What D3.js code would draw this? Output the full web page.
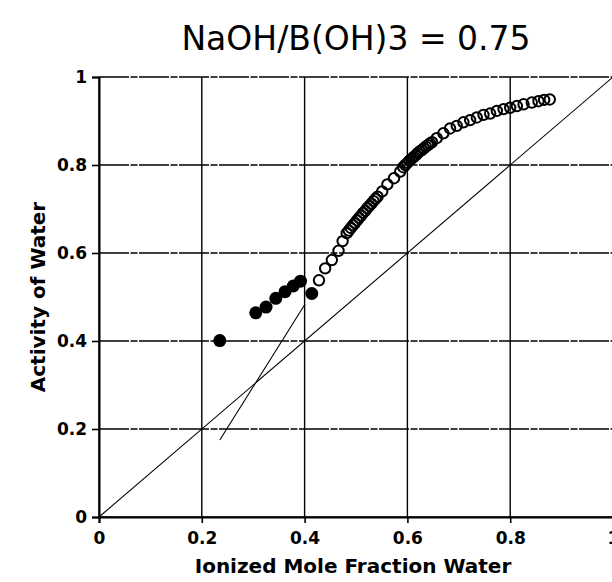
<!DOCTYPE html>
<html>
<head>
<meta charset="utf-8">
<script src="https://cdn.jsdelivr.net/npm/d3@7"></script>
<style>
  body { margin: 0; background: #fff; }
  svg { display: block; }
</style>
</head>
<body>
<div id="chart"></div>
<script>
// === Data ===
const xTicks = [0, 0.2, 0.4, 0.6, 0.8, 1];
const yTicks = [0, 0.2, 0.4, 0.6, 0.8, 1];
const tickLabels = ["0", "0.2", "0.4", "0.6", "0.8", "1"];

// filled markers (low water region)
const filledX = [0.235, 0.305, 0.325, 0.344, 0.362, 0.378, 0.392, 0.414];
const filledY = [0.401, 0.464, 0.477, 0.497, 0.512, 0.525, 0.536, 0.508];

// open markers
const openX = [0.428, 0.440, 0.453, 0.466, 0.474,
  0.482, 0.486, 0.490, 0.494, 0.498, 0.502, 0.506, 0.510, 0.514, 0.518, 0.522, 0.526, 0.530, 0.534, 0.538, 0.542,
  0.551, 0.561, 0.574, 0.586,
  0.592, 0.596, 0.600, 0.604, 0.608, 0.612, 0.616, 0.620, 0.624, 0.628, 0.632, 0.636, 0.640, 0.644, 0.648,
  0.657, 0.670, 0.683, 0.696, 0.709, 0.722, 0.735, 0.748, 0.761, 0.774, 0.787, 0.800, 0.813, 0.826, 0.842, 0.855, 0.866, 0.877];
const openY = [0.538, 0.565, 0.584, 0.605, 0.627,
  0.645, 0.651, 0.657, 0.663, 0.668, 0.674, 0.680, 0.685, 0.691, 0.696, 0.702, 0.707, 0.712, 0.718, 0.723, 0.728,
  0.740, 0.756, 0.770, 0.785,
  0.795, 0.800, 0.805, 0.810, 0.814, 0.818, 0.822, 0.827, 0.831, 0.834, 0.838, 0.842, 0.845, 0.849, 0.852,
  0.861, 0.872, 0.883, 0.889, 0.897, 0.902, 0.908, 0.914, 0.917, 0.923, 0.927, 0.930, 0.934, 0.938, 0.942, 0.945, 0.948, 0.949];

// ideal line a = x, and the tangent segment
const idealX = [0, 1];
const idealY = [0, 1];
const tangentX = [0.235, 0.401];
const tangentY = [0.175, 0.484];

const TITLE = "NaOH/B(OH)3 = 0.75";
const X_TITLE = "Ionized Mole Fraction Water";
const Y_TITLE = "Activity of Water";

// === Chart ===
const width = 612, height = 582;
const svg = d3.select("#chart").append("svg")
  .attr("width", width)
  .attr("height", height);

const x = d3.scaleLinear().domain([0, 1]).range([99, 613]);
const y = d3.scaleLinear().domain([0, 1]).range([517, 77]);

const FONT = "'DejaVu Sans', sans-serif";

// grid
const grid = svg.append("g").attr("stroke", "#000").attr("fill", "none");
grid.selectAll(".vg")
  .data(xTicks)
  .join("line")
  .attr("class", "vg")
  .attr("x1", d => x(d)).attr("x2", d => x(d))
  .attr("y1", y(0)).attr("y2", y(1))
  .attr("stroke-width", 1.4);
grid.selectAll(".hg")
  .data(yTicks)
  .join("line")
  .attr("class", "hg")
  .attr("x1", x(0)).attr("x2", x(1))
  .attr("y1", d => y(d)).attr("y2", d => y(d))
  .attr("stroke-width", 1.4)
  .attr("stroke-dasharray", d => (d === 0 ? null : "30 1.5 7 1.5"));

// axes
const xAxis = svg.append("g")
  .attr("transform", `translate(0,${y(0)})`)
  .call(d3.axisBottom(x).tickValues(xTicks).tickFormat((d, i) => tickLabels[i]).tickSize(6).tickPadding(9));
const yAxis = svg.append("g")
  .attr("transform", `translate(${x(0)},0)`)
  .call(d3.axisLeft(y).tickValues(yTicks).tickFormat((d, i) => tickLabels[i]).tickSize(7).tickPadding(5));

[xAxis, yAxis].forEach(a => {
  a.select(".domain").attr("stroke", "#000").attr("stroke-width", 2);
  a.selectAll(".tick line").attr("stroke", "#000").attr("stroke-width", 1.6);
  a.selectAll("text")
    .attr("fill", "#000")
    .style("font-family", FONT)
    .style("font-weight", "bold")
    .style("font-size", "17px");
});

// lines
const line = d3.line().x(d => x(d[0])).y(d => y(d[1]));
svg.append("path")
  .attr("d", line(d3.zip(idealX, idealY)))
  .attr("fill", "none").attr("stroke", "#000").attr("stroke-width", 1.1);
svg.append("path")
  .attr("d", line(d3.zip(tangentX, tangentY)))
  .attr("fill", "none").attr("stroke", "#000").attr("stroke-width", 1.1);

// markers
svg.append("g").selectAll("circle")
  .data(d3.zip(openX, openY))
  .join("circle")
  .attr("cx", d => x(d[0]))
  .attr("cy", d => y(d[1]))
  .attr("r", 5.2)
  .attr("fill", "none")
  .attr("stroke", "#000")
  .attr("stroke-width", 2);

svg.append("g").selectAll("circle")
  .data(d3.zip(filledX, filledY))
  .join("circle")
  .attr("cx", d => x(d[0]))
  .attr("cy", d => y(d[1]))
  .attr("r", 6.5)
  .attr("fill", "#000");

// titles
svg.append("text")
  .attr("x", 356).attr("y", 50)
  .attr("text-anchor", "middle")
  .style("font-family", FONT)
  .style("font-size", "33px")
  .text(TITLE);

svg.append("text")
  .attr("x", 353).attr("y", 573)
  .attr("text-anchor", "middle")
  .style("font-family", FONT)
  .style("font-weight", "bold")
  .style("font-size", "20px")
  .text(X_TITLE);

svg.append("text")
  .attr("transform", `translate(45,${(y(0) + y(1)) / 2}) rotate(-90)`)
  .attr("text-anchor", "middle")
  .style("font-family", FONT)
  .style("font-weight", "bold")
  .style("font-size", "20px")
  .text(Y_TITLE);
</script>
</body>
</html>
